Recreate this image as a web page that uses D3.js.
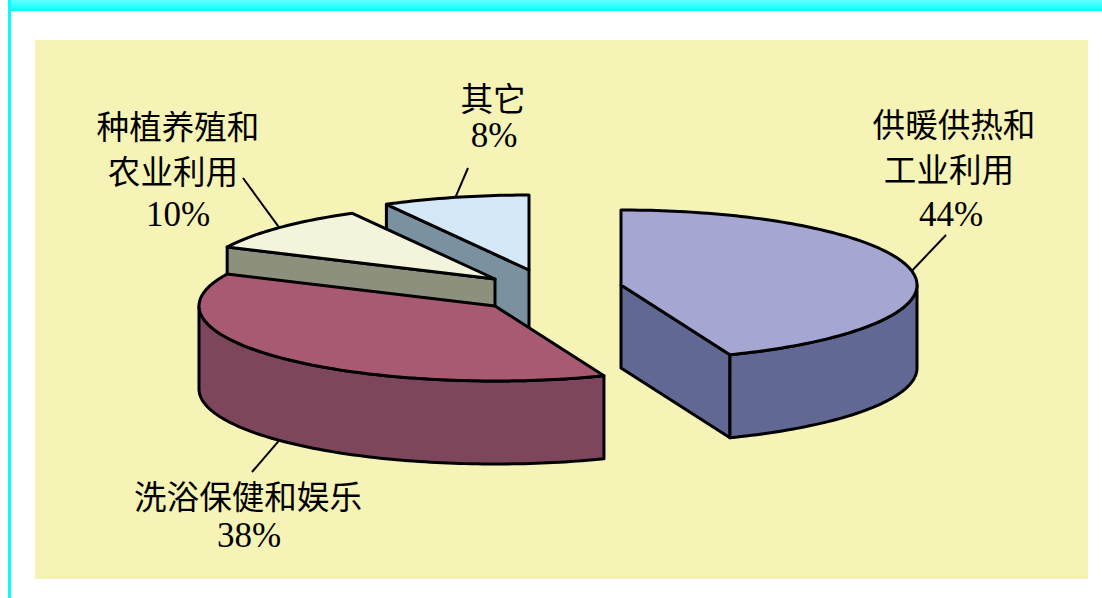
<!DOCTYPE html>
<html>
<head>
<meta charset="utf-8">
<script src="https://cdn.jsdelivr.net/npm/d3@7/dist/d3.min.js"></script>
<style>
  html, body { margin: 0; padding: 0; background: #fff; }
  svg { display: block; }
</style>
</head>
<body>
<svg id="chart" width="1102" height="598"></svg>
<script>
// Share of each geothermal use, clockwise from twelve o'clock
const categories = ["供暖供热和工业利用", "洗浴保健和娱乐", "种植养殖和农业利用", "其它"];
const shares = [44, 38, 10, 8];
const labelLines = [
  ["供暖供热和", "工业利用"],
  ["洗浴保健和娱乐"],
  ["种植养殖和", "农业利用"],
  ["其它"]
];
const topColors = ["#a6a6d3", "#a85a72", "#f4f4dc", "#d4e8f8"];
const sideColors = ["#626894", "#7e465c", "#8e907e", "#7a92a0"];

// Layout of the exploded pie: each wedge has its own centre
const radiusX = 296, radiusY = 75, depth = 83;
const centers = [[621, 285], [495, 306], [495, 279], [529, 270]];
// Label anchor (centre x, first baseline), line spacing and leader tip per wedge
const labelPlace = [
  { x: 954, y: 137, gap: 45, pctGap: 44, lineShift: -5, pctShift: -3 },
  { x: 248, y: 509, gap: 37, pctGap: 38, lineShift: 0, pctShift: 1 },
  { x: 178, y: 139, gap: 45, pctGap: 42, lineShift: -5, pctShift: 0 },
  { x: 493, y: 111, gap: 36, pctGap: 36, lineShift: 0, pctShift: 1 }
];
const leaderTips = [[946, 235], [252, 472], [243, 178], [468, 168]];

const svg = d3.select("#chart");

// Page frame
const defs = svg.append("defs");
const band = defs.append("linearGradient").attr("id", "band")
  .attr("x1", 0).attr("y1", 0).attr("x2", 0).attr("y2", 1);
band.append("stop").attr("offset", 0).attr("stop-color", "#66ffff");
band.append("stop").attr("offset", 1).attr("stop-color", "#00ffff");
svg.append("rect").attr("x", 8).attr("y", 0).attr("width", 1094).attr("height", 11).attr("fill", "url(#band)");
svg.append("rect").attr("x", 8).attr("y", 0).attr("width", 3).attr("height", 598).attr("fill", "#00ffff");
svg.append("rect").attr("x", 35).attr("y", 40).attr("width", 1053).attr("height", 539).attr("fill", "#f5f3b6");

// Tilted-disc projection: unit circle to screen offsets
const px = d3.scaleLinear().domain([-1, 1]).range([-radiusX, radiusX]);
const py = d3.scaleLinear().domain([-1, 1]).range([radiusY, -radiusY]);
const rimPoint = (c, a, drop = 0) => [c[0] + px(Math.sin(a)), c[1] + py(Math.cos(a)) + drop];
const rimSamples = (c, a0, a1, drop = 0) => {
  const n = Math.max(2, Math.ceil((a1 - a0) / 0.02));
  return d3.range(n + 1).map(i => rimPoint(c, a0 + (a1 - a0) * i / n, drop));
};
const outline = d3.line();

const arcs = d3.pie().sort(null).value(d => d)(shares);
const frontFrom = Math.PI / 2, frontTo = Math.PI * 1.5;

// Wedges are painted back to front so nearer ones cover the walls behind them
const paintOrder = [3, 2, 1, 0];
const wedgeStyle = sel => sel.attr("stroke", "#000").attr("stroke-width", 3).attr("stroke-linejoin", "round");

paintOrder.forEach(i => {
  const a = arcs[i], c = centers[i];
  const g = svg.append("g").attr("class", "wedge").attr("data-name", categories[i]);

  // Flat wall along a radial edge, shown only when it faces the viewer
  const radialWall = angle => {
    const rim = rimPoint(c, angle);
    g.append("path")
      .attr("d", outline([c, rim, [rim[0], rim[1] + depth], [c[0], c[1] + depth]]) + "Z")
      .attr("fill", sideColors[i]).call(wedgeStyle);
  };
  if (a.startAngle > Math.PI) radialWall(a.startAngle);
  if (a.endAngle < Math.PI) radialWall(a.endAngle);

  // Curved outer wall on the near half of the disc
  const w0 = Math.max(a.startAngle, frontFrom), w1 = Math.min(a.endAngle, frontTo);
  if (w1 > w0) {
    const upper = rimSamples(c, w0, w1);
    const lower = rimSamples(c, w0, w1, depth).reverse();
    g.append("path").attr("d", outline(upper.concat(lower)) + "Z")
      .attr("fill", sideColors[i]).call(wedgeStyle);
  }

  // Top face
  g.append("path")
    .attr("d", outline([c].concat(rimSamples(c, a.startAngle, a.endAngle))) + "Z")
    .attr("fill", topColors[i]).call(wedgeStyle);
});

// Leader lines start on the rim at each wedge's mid angle
arcs.forEach((a, i) => {
  const mid = (a.startAngle + a.endAngle) / 2;
  const onFront = mid > frontFrom && mid < frontTo;
  const from = rimPoint(centers[i], mid, onFront ? depth : 0);
  svg.append("line")
    .attr("x1", from[0]).attr("y1", from[1])
    .attr("x2", leaderTips[i][0]).attr("y2", leaderTips[i][1])
    .attr("stroke", "#000").attr("stroke-width", 2);
});

// Category names and percentages
labelLines.forEach((lines, i) => {
  const p = labelPlace[i];
  const t = svg.append("text").attr("text-anchor", "middle").attr("fill", "#000");
  lines.forEach((s, k) => {
    t.append("tspan").attr("x", p.x + (k > 0 ? p.lineShift : 0)).attr("y", p.y + k * p.gap)
      .attr("font-family", "'Noto Sans CJK SC', sans-serif")
      .attr("font-size", 32.6).text(s);
  });
  t.append("tspan").attr("x", p.x + p.pctShift).attr("y", p.y + (lines.length - 1) * p.gap + p.pctGap)
    .attr("font-family", "'Liberation Serif', serif")
    .attr("font-size", 35).text(shares[i] + "%");
});
</script>
</body>
</html>
